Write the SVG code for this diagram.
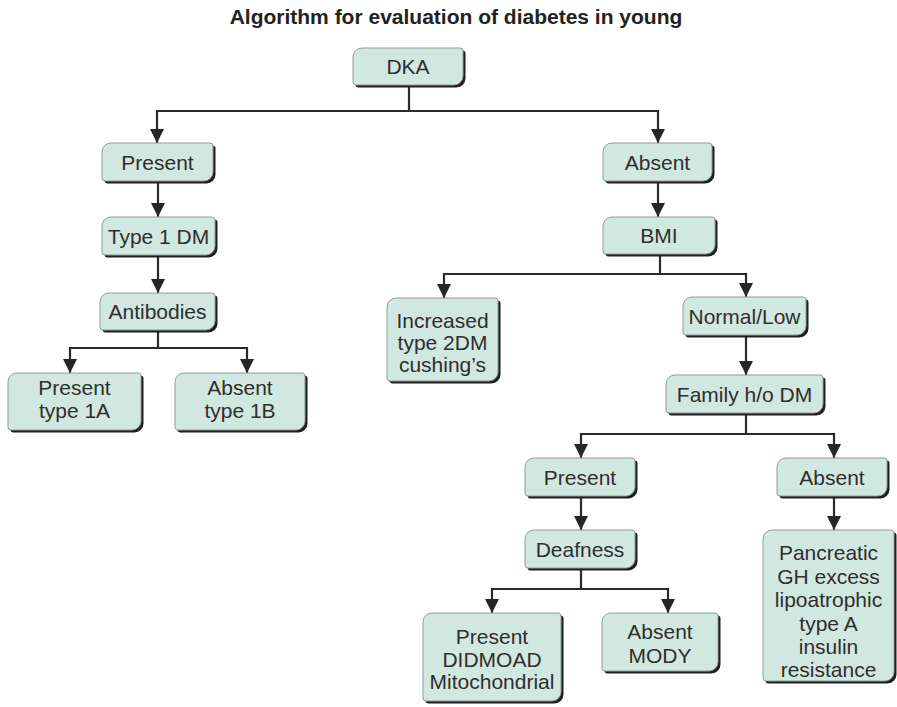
<svg xmlns="http://www.w3.org/2000/svg" width="897" height="707" viewBox="0 0 897 707">
<defs>
<marker id="arr" markerUnits="userSpaceOnUse" markerWidth="14" markerHeight="14" viewBox="0 0 13 13" refX="13" refY="6.5" orient="auto">
<path d="M0,0 L13,6.5 L0,13 Z" fill="#262626"/>
</marker>
<style>
.sh{fill:#1f1f1f;}
.bx{fill:#d1e8e1;stroke:#8e9c98;stroke-width:1;}
text{font-family:"Liberation Sans",Arial,sans-serif;font-size:21px;fill:#2e2e2e;text-anchor:middle;}
.title{font-weight:bold;fill:#222;}
.cn path{fill:none;stroke:#2a2a2a;stroke-width:2.2;marker-end:url(#arr);}
</style>
</defs>
<rect width="897" height="707" fill="#ffffff"/>
<text class="title" x="456" y="24">Algorithm for evaluation of diabetes in young</text>

<g class="cn" id="connectors">
<path d="M409,85 V111 H157 V143"/>
<path d="M409,111 H658 V143"/>
<path d="M158,181 V217"/>
<path d="M158,255 V293"/>
<path d="M158,330 V348 H70 V373"/>
<path d="M158,348 H247 V373"/>
<path d="M658,181 V217"/>
<path d="M660,254 V274 H444 V298"/>
<path d="M660,274 H746 V297"/>
<path d="M746,335 V375"/>
<path d="M746,413 V434 H581 V458"/>
<path d="M746,434 H834 V458"/>
<path d="M581,496 V530"/>
<path d="M581,568 V589 H492 V613"/>
<path d="M581,589 H668 V613"/>
<path d="M834,496 V530"/>
</g>

<g id="dka" transform="translate(353,48)">
<path class="sh" transform="translate(2.5,2.5)" d="M9,0H107A3,3 0 0 1 110,3V28A9,9 0 0 1 101,37H3A3,3 0 0 1 0,34V9A9,9 0 0 1 9,0Z"/>
<path class="bx" d="M9,0H107A3,3 0 0 1 110,3V28A9,9 0 0 1 101,37H3A3,3 0 0 1 0,34V9A9,9 0 0 1 9,0Z"/>
<text x="55" y="26">DKA</text>
</g>

<g id="present-left" transform="translate(102,143)">
<path class="sh" transform="translate(2.5,2.5)" d="M9,0H108A3,3 0 0 1 111,3V29A9,9 0 0 1 102,38H3A3,3 0 0 1 0,35V9A9,9 0 0 1 9,0Z"/>
<path class="bx" d="M9,0H108A3,3 0 0 1 111,3V29A9,9 0 0 1 102,38H3A3,3 0 0 1 0,35V9A9,9 0 0 1 9,0Z"/>
<text x="55.5" y="26.5">Present</text>
</g>

<g id="type1dm" transform="translate(102,217)">
<path class="sh" transform="translate(2.5,2.5)" d="M9,0H110A3,3 0 0 1 113,3V29A9,9 0 0 1 104,38H3A3,3 0 0 1 0,35V9A9,9 0 0 1 9,0Z"/>
<path class="bx" d="M9,0H110A3,3 0 0 1 113,3V29A9,9 0 0 1 104,38H3A3,3 0 0 1 0,35V9A9,9 0 0 1 9,0Z"/>
<text x="56.5" y="26.5">Type 1 DM</text>
</g>

<g id="antibodies" transform="translate(100,293)">
<path class="sh" transform="translate(2.5,2.5)" d="M9,0H112A3,3 0 0 1 115,3V28A9,9 0 0 1 106,37H3A3,3 0 0 1 0,34V9A9,9 0 0 1 9,0Z"/>
<path class="bx" d="M9,0H112A3,3 0 0 1 115,3V28A9,9 0 0 1 106,37H3A3,3 0 0 1 0,34V9A9,9 0 0 1 9,0Z"/>
<text x="57.5" y="26">Antibodies</text>
</g>

<g id="type1a" transform="translate(8,373)">
<path class="sh" transform="translate(2.5,2.5)" d="M9,0H130A3,3 0 0 1 133,3V48A9,9 0 0 1 124,57H3A3,3 0 0 1 0,54V9A9,9 0 0 1 9,0Z"/>
<path class="bx" d="M9,0H130A3,3 0 0 1 133,3V48A9,9 0 0 1 124,57H3A3,3 0 0 1 0,54V9A9,9 0 0 1 9,0Z"/>
<text x="66.5" y="22">Present</text>
<text x="66.5" y="45">type 1A</text>
</g>

<g id="type1b" transform="translate(175,373)">
<path class="sh" transform="translate(2.5,2.5)" d="M9,0H127A3,3 0 0 1 130,3V48A9,9 0 0 1 121,57H3A3,3 0 0 1 0,54V9A9,9 0 0 1 9,0Z"/>
<path class="bx" d="M9,0H127A3,3 0 0 1 130,3V48A9,9 0 0 1 121,57H3A3,3 0 0 1 0,54V9A9,9 0 0 1 9,0Z"/>
<text x="65" y="22">Absent</text>
<text x="65" y="45">type 1B</text>
</g>

<g id="absent-right" transform="translate(603,143)">
<path class="sh" transform="translate(2.5,2.5)" d="M9,0H106A3,3 0 0 1 109,3V29A9,9 0 0 1 100,38H3A3,3 0 0 1 0,35V9A9,9 0 0 1 9,0Z"/>
<path class="bx" d="M9,0H106A3,3 0 0 1 109,3V29A9,9 0 0 1 100,38H3A3,3 0 0 1 0,35V9A9,9 0 0 1 9,0Z"/>
<text x="54.5" y="26.5">Absent</text>
</g>

<g id="bmi" transform="translate(603,217)">
<path class="sh" transform="translate(2.5,2.5)" d="M9,0H109A3,3 0 0 1 112,3V28A9,9 0 0 1 103,37H3A3,3 0 0 1 0,34V9A9,9 0 0 1 9,0Z"/>
<path class="bx" d="M9,0H109A3,3 0 0 1 112,3V28A9,9 0 0 1 103,37H3A3,3 0 0 1 0,34V9A9,9 0 0 1 9,0Z"/>
<text x="56" y="26">BMI</text>
</g>

<g id="increased" transform="translate(387,298)">
<path class="sh" transform="translate(2.5,2.5)" d="M9,0H108A3,3 0 0 1 111,3V74A9,9 0 0 1 102,83H3A3,3 0 0 1 0,80V9A9,9 0 0 1 9,0Z"/>
<path class="bx" d="M9,0H108A3,3 0 0 1 111,3V74A9,9 0 0 1 102,83H3A3,3 0 0 1 0,80V9A9,9 0 0 1 9,0Z"/>
<text x="55.5" y="30">Increased</text>
<text x="55.5" y="52">type 2DM</text>
<text x="55.5" y="74">cushing’s</text>
</g>

<g id="normal-low" transform="translate(683,297)">
<path class="sh" transform="translate(2.5,2.5)" d="M9,0H120A3,3 0 0 1 123,3V29A9,9 0 0 1 114,38H3A3,3 0 0 1 0,35V9A9,9 0 0 1 9,0Z"/>
<path class="bx" d="M9,0H120A3,3 0 0 1 123,3V29A9,9 0 0 1 114,38H3A3,3 0 0 1 0,35V9A9,9 0 0 1 9,0Z"/>
<text x="61.5" y="26.5">Normal/Low</text>
</g>

<g id="family" transform="translate(666,375)">
<path class="sh" transform="translate(2.5,2.5)" d="M9,0H154A3,3 0 0 1 157,3V29A9,9 0 0 1 148,38H3A3,3 0 0 1 0,35V9A9,9 0 0 1 9,0Z"/>
<path class="bx" d="M9,0H154A3,3 0 0 1 157,3V29A9,9 0 0 1 148,38H3A3,3 0 0 1 0,35V9A9,9 0 0 1 9,0Z"/>
<text x="78.5" y="26.5">Family h/o DM</text>
</g>

<g id="present-fam" transform="translate(525,458)">
<path class="sh" transform="translate(2.5,2.5)" d="M9,0H107A3,3 0 0 1 110,3V29A9,9 0 0 1 101,38H3A3,3 0 0 1 0,35V9A9,9 0 0 1 9,0Z"/>
<path class="bx" d="M9,0H107A3,3 0 0 1 110,3V29A9,9 0 0 1 101,38H3A3,3 0 0 1 0,35V9A9,9 0 0 1 9,0Z"/>
<text x="55" y="26.5">Present</text>
</g>

<g id="absent-fam" transform="translate(777,458)">
<path class="sh" transform="translate(2.5,2.5)" d="M9,0H107A3,3 0 0 1 110,3V29A9,9 0 0 1 101,38H3A3,3 0 0 1 0,35V9A9,9 0 0 1 9,0Z"/>
<path class="bx" d="M9,0H107A3,3 0 0 1 110,3V29A9,9 0 0 1 101,38H3A3,3 0 0 1 0,35V9A9,9 0 0 1 9,0Z"/>
<text x="55" y="26.5">Absent</text>
</g>

<g id="deafness" transform="translate(525,530)">
<path class="sh" transform="translate(2.5,2.5)" d="M9,0H107A3,3 0 0 1 110,3V29A9,9 0 0 1 101,38H3A3,3 0 0 1 0,35V9A9,9 0 0 1 9,0Z"/>
<path class="bx" d="M9,0H107A3,3 0 0 1 110,3V29A9,9 0 0 1 101,38H3A3,3 0 0 1 0,35V9A9,9 0 0 1 9,0Z"/>
<text x="55" y="26.5">Deafness</text>
</g>

<g id="didmoad" transform="translate(423,613)">
<path class="sh" transform="translate(2.5,2.5)" d="M9,0H135A3,3 0 0 1 138,3V79A9,9 0 0 1 129,88H3A3,3 0 0 1 0,85V9A9,9 0 0 1 9,0Z"/>
<path class="bx" d="M9,0H135A3,3 0 0 1 138,3V79A9,9 0 0 1 129,88H3A3,3 0 0 1 0,85V9A9,9 0 0 1 9,0Z"/>
<text x="69" y="31">Present</text>
<text x="69" y="54">DIDMOAD</text>
<text x="69" y="76">Mitochondrial</text>
</g>

<g id="mody" transform="translate(602,613)">
<path class="sh" transform="translate(2.5,2.5)" d="M9,0H113A3,3 0 0 1 116,3V49A9,9 0 0 1 107,58H3A3,3 0 0 1 0,55V9A9,9 0 0 1 9,0Z"/>
<path class="bx" d="M9,0H113A3,3 0 0 1 116,3V49A9,9 0 0 1 107,58H3A3,3 0 0 1 0,55V9A9,9 0 0 1 9,0Z"/>
<text x="58" y="26">Absent</text>
<text x="58" y="50">MODY</text>
</g>

<g id="pancreatic" transform="translate(763,530)">
<path class="sh" transform="translate(2.5,2.5)" d="M9,0H128A3,3 0 0 1 131,3V142A9,9 0 0 1 122,151H3A3,3 0 0 1 0,148V9A9,9 0 0 1 9,0Z"/>
<path class="bx" d="M9,0H128A3,3 0 0 1 131,3V142A9,9 0 0 1 122,151H3A3,3 0 0 1 0,148V9A9,9 0 0 1 9,0Z"/>
<text x="65.5" y="30">Pancreatic</text>
<text x="65.5" y="53.5">GH excess</text>
<text x="65.5" y="77">lipoatrophic</text>
<text x="65.5" y="100.5">type A</text>
<text x="65.5" y="124">insulin</text>
<text x="65.5" y="147">resistance</text>
</g>
</svg>
